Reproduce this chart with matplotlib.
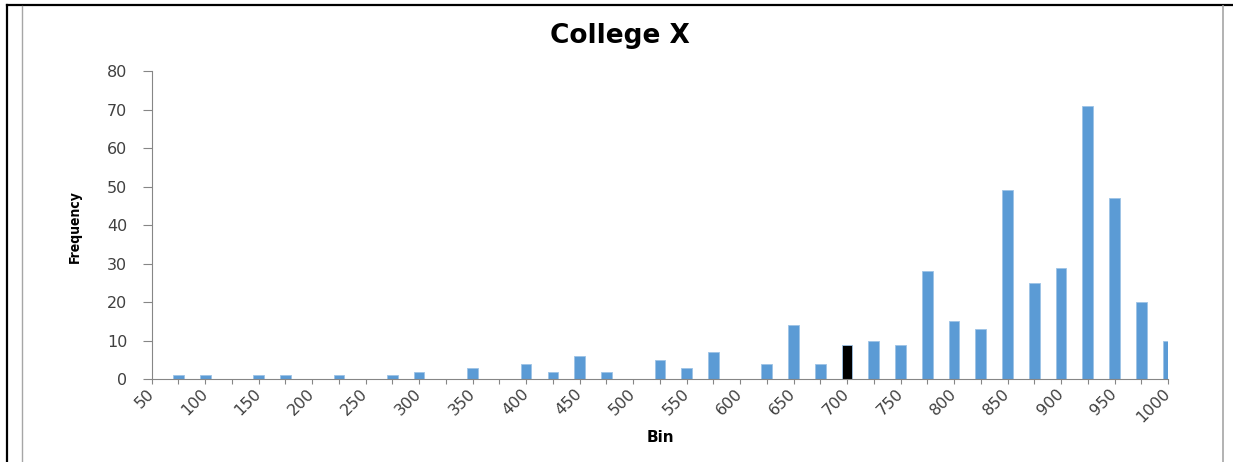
import matplotlib
matplotlib.use("Agg")
import matplotlib.pyplot as plt
from matplotlib.lines import Line2D

bins = list(range(50, 1001, 25))
freq = [0, 1, 1, 0, 1, 1, 0, 1, 0, 1, 2, 0, 3, 0, 4, 2, 6, 2, 0, 5, 3, 7, 0,
        4, 14, 4, 9, 10, 9, 28, 15, 13, 49, 25, 29, 71, 47, 20, 10]
highlight_bin = 700
title = "College X"
xlabel = "Bin"
ylabel = "Frequency"

blue = "#5B9BD5"
axis_gray = "#868686"
text_col = "#404040"

fig = plt.figure(figsize=(12.33, 4.62), dpi=100)
ax = fig.add_axes([151.7 / 1233, 1 - 379.3 / 462, (1168 - 151.7) / 1233, (379.3 - 71) / 462])

x = list(range(len(bins)))
colors = ["#000000" if b == highlight_bin else blue for b in bins]
ax.bar(x, freq, width=0.4, color=colors, edgecolor="#9DC3E6", linewidth=0.6, zorder=2)

ax.set_xlim(0, len(bins) - 1)
ax.set_ylim(0, 80)
ax.set_yticks(range(0, 81, 10))
ax.set_xticks(x)
ax.set_xticklabels([str(b) if i % 2 == 0 else "" for i, b in enumerate(bins)],
                   rotation=45, ha="right", va="center", rotation_mode="anchor",
                   fontsize=11.5, color=text_col)
ax.tick_params(axis="x", direction="out", length=3.6, width=0.8, color=axis_gray, pad=5)
ax.tick_params(axis="y", direction="out", length=6.5, width=0.8, color=axis_gray, pad=11,
               labelsize=11.5, labelcolor=text_col)

for s in ["top", "right"]:
    ax.spines[s].set_visible(False)
for s in ["left", "bottom"]:
    ax.spines[s].set_color(axis_gray)
    ax.spines[s].set_linewidth(0.8)

fig.text(620 / 1233, 1 - 36 / 462, title, ha="center", va="center", fontsize=19,
         fontweight="bold", family=["DejaVu Sans"], color="#000000")
fig.text(660 / 1233, 1 - 437 / 462, xlabel, ha="center", va="center", fontsize=11,
         fontweight="bold", color="#000000")
fig.text(75 / 1233, 1 - 227 / 462, ylabel, ha="center", va="center", fontsize=10,
         fontweight="bold", rotation=90, fontstretch="condensed",
         family=["DejaVu Sans"], color="#000000")

# page / chart frame lines
fig.add_artist(Line2D([7 / 1233, 7 / 1233], [0, 1 - 5 / 462], transform=fig.transFigure,
                      color="black", linewidth=1.6))
fig.add_artist(Line2D([7 / 1233, 1], [1 - 5 / 462, 1 - 5 / 462], transform=fig.transFigure,
                      color="black", linewidth=1.6))
fig.add_artist(Line2D([22 / 1233, 22 / 1233], [0, 1 - 6 / 462], transform=fig.transFigure,
                      color="#A6A6A6", linewidth=1.0))
fig.add_artist(Line2D([1223 / 1233, 1223 / 1233], [0, 1 - 6 / 462], transform=fig.transFigure,
                      color="#A6A6A6", linewidth=1.2))

fig.savefig("out.png", dpi=100)
